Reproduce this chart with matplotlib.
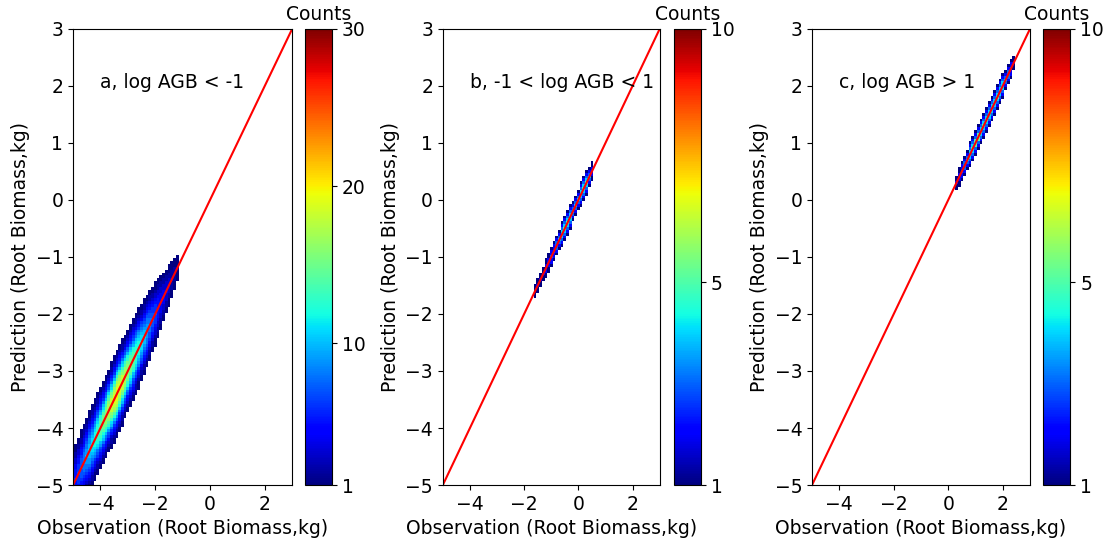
import numpy as np
import matplotlib.pyplot as plt

# column centres (observation), peak counts on the 1:1 line, and spread across it
obs_a = np.round(np.arange(-5.0, -1.15, 0.1), 2)
peak_a = [5, 6, 7, 8, 9, 10, 11, 12, 13, 14, 15, 16, 17, 18, 19, 20, 21, 20, 19, 18,
          17, 16, 15, 14, 13, 12, 11, 10, 9, 8, 7, 6, 5, 4.5, 4, 3.5, 3, 2.5, 2]
spread_a = [0.32, 0.32, 0.32, 0.32, 0.32, 0.32, 0.32, 0.32, 0.31, 0.31, 0.31, 0.31, 0.31,
            0.31, 0.31, 0.31, 0.31, 0.31, 0.31, 0.31, 0.31, 0.31, 0.31, 0.31, 0.31, 0.3,
            0.3, 0.3, 0.29, 0.28, 0.28, 0.27, 0.26, 0.25, 0.24, 0.23, 0.22, 0.2, 0.18]

obs_b = np.round(np.arange(-1.6, 0.55, 0.1), 2)
peak_b = [1.5, 2, 2, 2, 2.5, 2.5, 3, 3, 3.5, 4, 4.5, 5, 5, 4.5, 4, 4, 4, 4.5, 5, 5, 4, 2.5]
spread_b = [0.12] * len(obs_b)

obs_c = np.round(np.arange(0.3, 2.45, 0.1), 2)
peak_c = [2, 2.5, 3, 3.5, 4, 4.5, 5, 5.5, 5.5, 5, 5, 5, 4.5, 4.5, 4.5, 5, 5, 4.5, 4, 3.5, 3, 2]
spread_c = [0.12] * len(obs_c)

titles = ['a, log AGB < -1', 'b, -1 < log AGB < 1', 'c, log AGB > 1']
vmaxs = [30, 10, 10]
cticks = [[1, 10, 20, 30], [1, 5, 10], [1, 5, 10]]

plt.rcParams['font.size'] = 13.5

fig = plt.figure(figsize=(11.07, 5.42), dpi=100)
ax_pos = [[0.066, 0.105, 0.198, 0.842], [0.400, 0.105, 0.196, 0.842], [0.7335, 0.105, 0.197, 0.842]]
cb_pos = [[0.2755, 0.105, 0.0245, 0.842], [0.609, 0.105, 0.0245, 0.842], [0.9425, 0.105, 0.0245, 0.842]]

sets = [(obs_a, peak_a, spread_a), (obs_b, peak_b, spread_b), (obs_c, peak_c, spread_c)]
dx, dy = 0.1, 0.05
for i in range(3):
    obs, peak, spread = sets[i]
    ax = fig.add_axes(ax_pos[i])
    cax = fig.add_axes(cb_pos[i])
    xs, ys, ws = [], [], []
    for xc, p, s in zip(obs, peak, spread):
        yc = np.arange(xc - 1.0, xc + 1.0 + 1e-9, dy)
        c = np.floor(p * np.exp(-0.5 * ((yc - xc) / s) ** 2))
        keep = c >= 1
        xs += [xc] * keep.sum()
        ys += list(yc[keep])
        ws += list(c[keep])
    xedges = np.arange(obs[0] - dx / 2, obs[-1] + dx, dx)
    yedges = np.arange(obs[0] - 1.0 - dy / 2, obs[-1] + 1.0 + dy, dy)
    h = ax.hist2d(xs, ys, bins=[xedges, yedges], weights=ws, cmin=1,
                  cmap='jet', vmin=1, vmax=vmaxs[i])
    ax.plot([-5, 3], [-5, 3], color='red', lw=1.5)
    ax.set_xlim(-5, 3)
    ax.set_ylim(-5, 3)
    ax.set_xticks([-4, -2, 0, 2])
    ax.set_yticks(range(-5, 4))
    ax.text(-4.0, 2.05, titles[i], va='center', ha='left')
    ax.set_xlabel('Observation (Root Biomass,kg)')
    ax.set_ylabel('Prediction (Root Biomass,kg)')
    cb = fig.colorbar(h[3], cax=cax, ticks=cticks[i])
    cax.set_title('Counts', fontsize=13.5)

fig.savefig('out.png', dpi=100)
